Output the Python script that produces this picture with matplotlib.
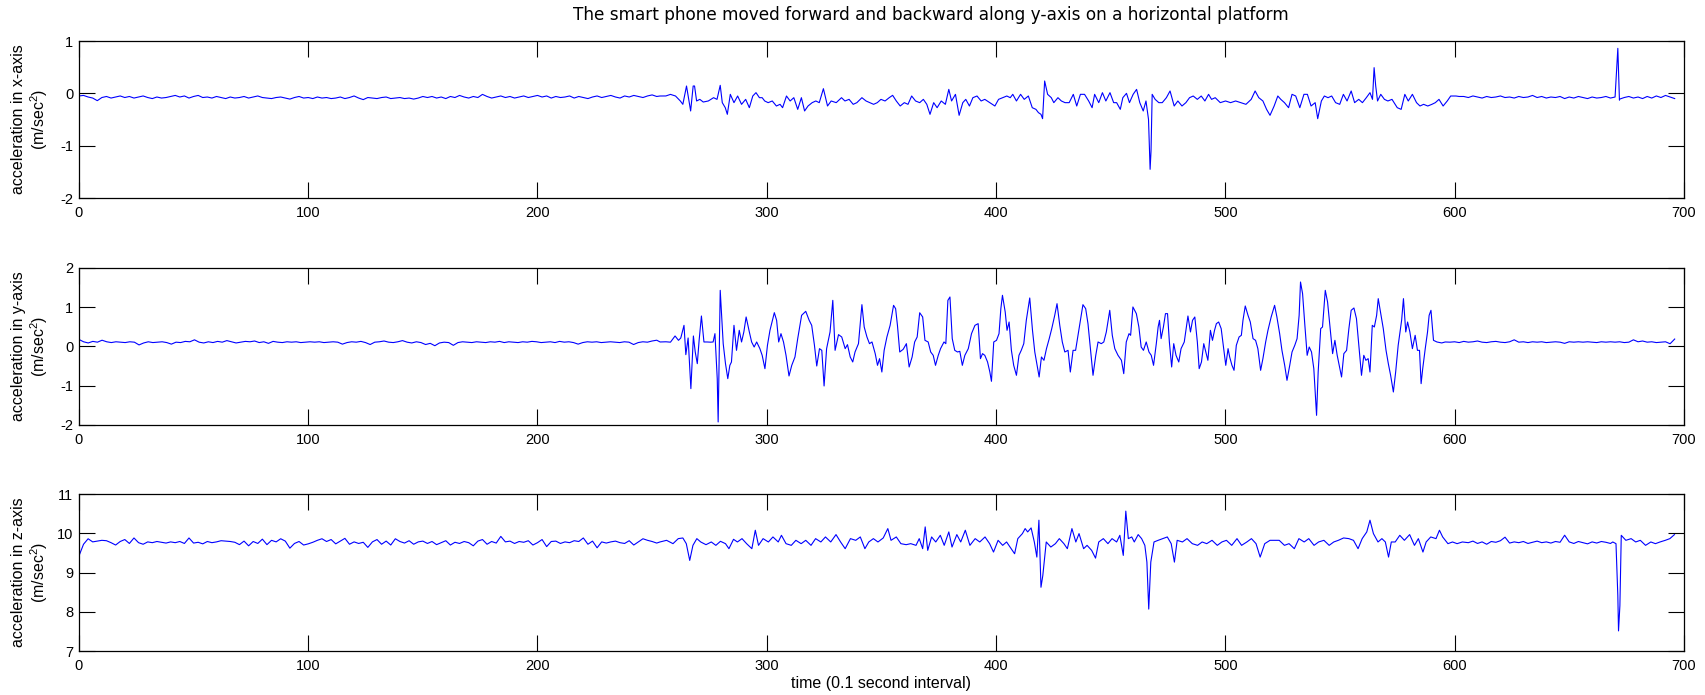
import numpy as np
import matplotlib
matplotlib.use("Agg")
import matplotlib.pyplot as plt

plt.rcParams['font.family'] = ['Liberation Sans', 'DejaVu Sans']
plt.rcParams['mathtext.fontset'] = 'custom'
plt.rcParams['mathtext.rm'] = 'Liberation Sans'
plt.rcParams['axes.unicode_minus'] = False

# ---------------- x-axis acceleration ----------------
x_quiet_a = [-0.05,-0.04,-0.07,-0.09,-0.14,-0.08,-0.06,-0.09,-0.07,-0.05,-0.08,-0.06,-0.09,-0.07,-0.05,-0.08,-0.10,-0.07,-0.09,-0.08,
             -0.06,-0.04,-0.07,-0.05,-0.09,-0.06,-0.04,-0.08,-0.07,-0.09,-0.06,-0.08,-0.10,-0.07,-0.09,-0.08,-0.06,-0.09,-0.07,-0.05,
             -0.08,-0.09,-0.10,-0.08,-0.07,-0.09,-0.11,-0.08,-0.06,-0.09,-0.08,-0.10,-0.07,-0.09,-0.08,-0.10,-0.09,-0.07,-0.10,-0.08,
             -0.05,-0.09,-0.12,-0.08,-0.09,-0.10,-0.08,-0.07,-0.10,-0.09,-0.08,-0.10,-0.09,-0.11,-0.09,-0.06,-0.08,-0.06,-0.09,-0.07,
             -0.10,-0.06,-0.08,-0.04,-0.07,-0.09,-0.06,-0.08,-0.02,-0.06,-0.09,-0.07,-0.05,-0.08,-0.06,-0.09,-0.07,-0.05,-0.08,-0.06,
             -0.04,-0.07,-0.05,-0.09,-0.06,-0.08,-0.07,-0.05,-0.09,-0.06,-0.08,-0.10,-0.07,-0.05,-0.08,-0.06,-0.04,-0.07,-0.09,-0.05,
             -0.07,-0.04,-0.06,-0.08,-0.05,-0.03,-0.06]
x_active_t = [253.4,256,258,260.2,262.3,263.4,265.0,266.1,266.8,267.9,268.5,269.4,270.8,272.3,274.5,276.8,278.3,279.7,280.6,281.9,
              282.8,284.1,285.7,287.3,289.0,290.8,292.4,293.9,295.3,296.8,298.0,299.1,300.6,302.4,304.2,305.8,306.9,308.6,310.2,311.8,
              313.5,315.1,316.5,318.0,319.8,321.4,322.9,324.7,326.5,328.1,330.3,332.6,334.1,335.9,337.7,339.3,341.5,343.3,344.9,346.6,
              348.2,349.8,351.6,353.4,354.9,356.5,358.2,360.0,361.6,363.2,364.9,366.7,368.3,369.8,371.2,372.8,374.3,376.1,377.9,379.4,
              380.6,382.3,383.9,385.5,386.8,388.4,389.9,391.7,393.5,395.1,397.3,399.5,401.1,402.9,404.7,406.2,407.3,408.9,410.7,412.3,
              414.1,415.8,417.4,418.5,419.6,420.3,421.2,422.5,424.1,425.2,427.0,428.5,430.1,431.9,433.7,435.2,436.8,438.6,440.4,441.9,
              443.0,444.8,446.4,447.9,449.7,451.3,452.6,454.2,455.3,456.9,458.2,459.8,461.3,462.7,464.2,465.4,466.5,467.2,467.6,468.1,
              469.4,471.0,472.5,474.3,475.9,477.7,479.3,481.1,482.8,484.4,486.0,487.8,489.5,491.1,492.7,494.0,495.6,497.8,500.1,502.3,
              504.5,506.8,509.0,511.3,513.0,514.6,516.4,518.0,519.5,521.3,522.9,524.2,525.8,527.6,529.1,530.7,532.5,534.3,535.8,537.4,
              539.2,540.3,541.9,543.2,544.8,546.4,548.1,549.9,551.5,553.1,554.9,556.4,558.2,559.8,561.5,563.1,564.2,564.9,565.6,566.4,
              567.8,569.4,570.9,572.7,575.0,576.7,578.3,579.8,581.6,583.4,584.9,586.5,588.3,590.1,591.6,593.2,595.0,596.8,598.3,600.6,
              602.0]
x_active_v = [-0.051,-0.05,-0.02,-0.051,-0.146,-0.210,0.140,-0.146,-0.337,0.140,0.140,-0.146,-0.115,-0.166,-0.146,-0.083,-0.115,0.153,-0.178,-0.274,
              -0.401,-0.019,-0.178,-0.051,-0.210,-0.115,-0.274,-0.051,0.013,-0.083,-0.083,-0.146,-0.178,-0.146,-0.242,-0.210,-0.274,-0.051,-0.146,-0.083,
              -0.306,-0.083,-0.337,-0.242,-0.178,-0.146,-0.178,0.089,-0.242,-0.146,-0.178,-0.083,-0.146,-0.115,-0.210,-0.178,-0.083,-0.146,-0.178,-0.210,
              -0.178,-0.115,-0.146,-0.083,-0.038,-0.146,-0.242,-0.178,-0.210,-0.051,-0.146,-0.178,-0.115,-0.210,-0.401,-0.178,-0.274,-0.146,-0.210,0.076,
              -0.146,-0.019,-0.420,-0.178,-0.115,-0.242,-0.083,-0.051,-0.146,-0.115,-0.178,-0.242,-0.115,-0.083,-0.051,-0.083,-0.019,-0.146,-0.019,-0.115,
              -0.051,-0.274,-0.306,-0.369,-0.401,-0.484,0.236,-0.019,-0.083,-0.178,-0.083,-0.146,-0.178,-0.178,-0.019,-0.242,-0.019,-0.019,-0.146,-0.274,
              -0.019,-0.178,0.013,-0.146,0.013,-0.178,-0.178,-0.306,-0.083,0.000,-0.178,-0.019,0.076,-0.178,-0.337,-0.146,-0.497,-1.452,-1.102,-0.019,
              -0.115,-0.178,-0.178,-0.083,0.045,-0.242,-0.146,-0.242,-0.178,-0.083,-0.051,-0.115,-0.051,-0.146,-0.019,-0.115,-0.083,-0.178,-0.146,-0.178,
              -0.146,-0.178,-0.210,-0.115,0.045,-0.083,-0.146,-0.306,-0.420,-0.242,-0.051,-0.115,-0.178,-0.274,-0.019,-0.051,-0.274,-0.019,-0.019,-0.242,
              -0.178,-0.484,-0.146,-0.051,-0.083,-0.051,-0.178,-0.210,-0.019,-0.146,0.045,-0.178,-0.115,-0.178,-0.083,0.013,-0.115,0.491,0.140,-0.146,
              -0.019,-0.115,-0.146,-0.115,-0.274,-0.306,-0.019,-0.146,-0.019,-0.178,-0.242,-0.210,-0.242,-0.210,-0.178,-0.115,-0.242,-0.146,-0.051,-0.051,
              -0.06]
x_quiet_b = [-0.06,-0.08,-0.05,-0.07,-0.09,-0.06,-0.08,-0.07,-0.05,-0.08,-0.07,-0.09,-0.06,-0.08,-0.07,-0.04,-0.08,-0.06,-0.09,-0.07,
             -0.08,-0.06,-0.10,-0.07,-0.09,-0.06,-0.08,-0.10,-0.07,-0.09,-0.08,-0.06,-0.09,-0.07,-0.11,-0.08,-0.06,-0.09,-0.07,-0.10,
             -0.06,-0.09,-0.05,-0.08,-0.04,-0.07,-0.10]
x_spike_t = [671.2, 671.9]
x_spike_v = [0.86, -0.13]

# ---------------- y-axis acceleration ----------------
y_quiet_a = [0.18,0.12,0.09,0.13,0.11,0.16,0.12,0.10,0.12,0.11,0.10,0.12,0.11,0.04,0.09,0.12,0.10,0.11,0.12,0.10,
             0.06,0.11,0.10,0.13,0.12,0.17,0.11,0.09,0.12,0.10,0.13,0.11,0.15,0.12,0.09,0.11,0.13,0.12,0.14,0.10,
             0.12,0.08,0.13,0.11,0.10,0.12,0.11,0.12,0.10,0.11,0.12,0.11,0.12,0.10,0.11,0.12,0.11,0.06,0.10,0.12,
             0.11,0.13,0.10,0.05,0.11,0.12,0.14,0.11,0.10,0.12,0.15,0.11,0.09,0.12,0.10,0.05,0.08,0.02,0.09,0.11,
             0.10,0.03,0.10,0.12,0.11,0.10,0.12,0.11,0.10,0.12,0.11,0.13,0.10,0.12,0.11,0.10,0.12,0.11,0.13,0.12,
             0.10,0.11,0.12,0.10,0.13,0.11,0.12,0.10,0.06,0.10,0.12,0.11,0.12,0.10,0.11,0.12,0.11,0.10,0.12,0.11,
             0.05,0.10,0.12,0.11,0.14,0.16]
y_active_t = [253.5,256,258,260,261.5,262.5,263.9,264.7,265.7,266.9,268.0,268.8,269.7,270.5,271.5,272.6,274,275.5,276.6,277.4,
              278.4,278.8,279.7,281.0,282.0,283.0,283.9,284.6,285.7,286.8,288.0,289.0,290.0,291.0,292.4,293.4,294.5,295.6,297,298,
              299.2,300.3,301.4,303.3,304.3,305.2,306.2,307.3,308.4,309.7,310.9,312.3,313.5,315.2,317.0,318.5,319.6,320.8,321.8,323.0,
              324.0,325.0,326.1,327.6,328.8,329.8,331.3,332.7,334.2,335.2,336.4,337.5,338.5,340.0,341.5,342.5,343.7,344.8,345.9,347.3,
              348.3,349.2,350.2,351.2,352.4,353.8,355.3,356.2,357.0,358.0,359.5,360.9,362.1,363.4,364.5,365.6,366.7,368.0,369.0,370.4,
              371.5,372.6,373.6,374.8,375.8,377.3,378.1,379.0,379.9,380.9,382.0,383.2,384.2,385.3,386.4,387.9,389.3,390.8,392.2,393.2,
              394.1,395.1,396.3,397.3,398.0,399.0,400.2,401.3,402.1,402.8,404.0,404.8,405.7,406.7,407.7,408.9,410.0,411.0,412.1,413.2,
              414.7,415.9,416.9,417.9,418.8,419.8,420.9,422.0,423.2,424.3,425.6,426.6,427.8,428.9,430.0,431.4,432.4,433.6,434.7,436.2,
              437.9,439.1,440.1,441.1,442.3,443.5,444.5,445.9,447.0,448.1,449.6,450.7,451.8,453.2,454.7,455.7,456.8,458.0,458.7,459.7,
              461.2,462.3,463.3,464.3,465.5,466.7,467.7,468.7,469.9,470.7,471.3,472.0,473.0,473.9,474.8,475.6,476.6,477.5,478.5,479.7,
              480.7,482.1,483.7,484.8,485.7,486.7,487.8,488.6,489.6,490.6,491.5,492.4,493.5,494.4,495.3,496.1,497.1,498.2,499.3,500.2,
              501.2,501.9,502.9,503.8,504.8,506.0,507.0,507.7,508.7,509.9,510.9,512.1,513.2,514.2,515.4,516.4,517.6,518.6,520.0,521.5,
              522.5,523.7,524.7,525.9,526.9,528.1,529.1,530.3,531.3,532.2,532.8,533.7,534.7,535.7,536.6,537.6,538.6,539.4,539.8,540.5,
              541.6,542.4,543.6,544.6,545.6,546.8,547.8,548.8,550.0,550.7,551.7,552.9,553.9,554.9,556.1,557.2,558.3,559.4,560.4,561.3,
              562.3,563.1,564.1,565.0,566.0,566.7,567.8,568.9,570.1,571.1,572.1,573.3,574.3,575.4,576.2,576.9,577.7,578.7,579.5,580.5,
              581.6,582.8,583.8,584.7,585.4,586.1,587.2,588.2,588.9,589.7,590.8,592.3,594.4,595.9]
y_active_v = [0.115,0.12,0.11,0.268,0.157,0.217,0.539,-0.208,0.217,-1.074,0.268,-0.140,-0.437,0.157,0.777,0.115,0.115,0.11,0.115,0.327,
              -0.819,-1.923,1.431,0.072,-0.437,-0.819,-0.480,-0.395,0.539,-0.098,0.412,0.115,0.370,0.752,0.370,0.115,-0.013,0.115,-0.055,-0.225,
              -0.565,0.030,0.412,0.862,0.667,0.115,0.327,0.115,-0.225,-0.751,-0.480,-0.267,0.200,0.794,0.896,0.667,0.539,0.030,-0.497,-0.055,
              -0.098,-1.006,-0.055,0.370,1.176,-0.098,0.302,0.242,-0.055,0.047,-0.267,-0.395,-0.140,0.072,1.066,0.497,0.242,0.072,0.115,-0.182,
              -0.480,-0.310,-0.650,-0.098,0.242,0.539,1.049,0.964,0.539,-0.140,-0.072,0.072,-0.522,-0.267,0.115,0.242,0.860,0.752,0.157,0.115,
              -0.140,-0.225,-0.480,-0.225,-0.055,0.115,0.072,1.176,1.261,0.200,-0.098,-0.140,-0.123,-0.480,-0.225,-0.055,0.327,0.539,0.582,-0.310,
              -0.182,-0.225,-0.395,-0.650,-0.887,0.115,0.157,0.327,0.964,1.304,0.879,0.412,0.624,-0.098,-0.480,-0.734,-0.225,-0.098,0.072,0.667,
              1.236,0.412,-0.140,-0.480,-0.777,-0.267,-0.352,-0.055,0.200,0.455,0.794,1.091,0.539,0.115,-0.140,-0.098,-0.650,-0.098,-0.098,0.455,
              1.066,0.964,0.582,-0.013,-0.734,-0.225,0.115,0.072,0.115,0.370,0.922,0.285,-0.055,-0.225,-0.352,-0.692,0.115,0.327,0.285,1.007,
              0.837,0.497,-0.013,-0.098,0.115,-0.140,-0.225,-0.480,0.072,0.497,0.667,0.200,0.497,0.837,0.837,0.115,-0.522,0.072,-0.225,-0.395,
              -0.055,0.115,0.777,0.370,0.667,0.752,0.115,-0.565,-0.395,0.072,-0.140,-0.352,0.412,0.157,0.412,0.582,0.624,0.455,-0.055,-0.480,
              -0.055,-0.267,-0.480,-0.607,0.030,0.242,0.285,0.667,1.032,0.794,0.624,0.200,0.157,-0.055,-0.607,-0.310,0.115,0.412,0.752,1.049,
              0.752,0.327,-0.098,-0.480,-0.862,-0.480,-0.140,0.030,0.200,0.794,1.643,1.346,0.539,-0.225,-0.013,-0.140,-0.565,-1.329,-1.754,-0.650,
              0.455,0.497,1.431,1.134,0.539,-0.182,0.157,-0.225,-0.565,-0.777,-0.182,-0.098,0.455,0.922,0.981,0.709,-0.013,-0.734,-0.225,-0.352,
              -0.310,-0.650,0.539,0.497,0.794,1.219,0.837,0.455,-0.098,-0.437,-0.734,-1.159,-0.650,0.030,0.370,0.667,1.219,0.370,0.624,0.370,
              -0.055,0.285,-0.098,-0.098,-0.947,-0.565,-0.055,0.370,0.794,0.922,0.157,0.115,0.09,0.115]
y_quiet_b = [0.11,0.12,0.10,0.13,0.11,0.12,0.14,0.11,0.10,0.12,0.13,0.11,0.10,0.12,0.17,0.11,0.12,0.10,0.12,0.11,
             0.12,0.10,0.11,0.12,0.11,0.08,0.12,0.11,0.12,0.11,0.12,0.11,0.10,0.12,0.11,0.12,0.11,0.12,0.10,0.11,
             0.17,0.12,0.14,0.11,0.12,0.10,0.11,0.12,0.07,0.19]

# ---------------- z-axis acceleration ----------------
z_quiet_a = [9.42,9.72,9.86,9.78,9.80,9.82,9.81,9.76,9.70,9.79,9.84,9.74,9.88,9.76,9.72,9.78,9.76,9.79,9.77,9.75,
             9.78,9.76,9.79,9.74,9.88,9.75,9.77,9.73,9.79,9.76,9.78,9.81,9.80,9.79,9.77,9.71,9.80,9.68,9.79,9.74,
             9.85,9.71,9.82,9.78,9.86,9.80,9.62,9.74,9.79,9.70,9.73,9.77,9.82,9.86,9.79,9.84,9.73,9.80,9.87,9.72,
             9.78,9.74,9.77,9.64,9.78,9.84,9.72,9.80,9.70,9.86,9.79,9.75,9.81,9.72,9.78,9.80,9.74,9.79,9.71,9.76,
             9.81,9.70,9.77,9.74,9.79,9.76,9.68,9.80,9.84,9.72,9.79,9.75,9.92,9.78,9.80,9.74,9.79,9.77,9.81,9.70,
             9.76,9.84,9.66,9.79,9.80,9.74,9.78,9.76,9.81,9.79,9.88,9.72,9.80,9.63,9.78,9.75,9.78,9.80,9.76,9.74,
             9.81,9.70,9.78,9.86,9.82,9.79,9.75]
z_active_t = [253.4,256.3,259.1,261.4,263.4,264.9,266.4,267.8,269.5,271.2,273.5,275.8,277.8,279.8,282.0,283.5,285.5,287.2,289.2,291.2,
              293.5,295.0,296.4,298.4,300.7,302.7,305.0,306.4,308.4,310.7,312.7,315.0,317.0,319.3,321.3,323.6,325.6,327.9,330.2,332.2,
              334.2,336.5,338.8,340.8,342.8,344.5,346.5,348.5,350.8,352.8,354.2,356.5,358.5,360.8,362.8,365.1,366.5,368.0,369.1,370.2,
              371.9,373.7,375.7,377.4,379.4,380.8,382.9,384.6,386.6,388.6,390.9,392.9,395.2,397.2,398.9,400.9,402.9,404.6,406.6,408.1,
              409.5,411.5,412.7,413.8,415.3,416.7,417.8,418.7,419.6,420.4,421.9,423.9,425.9,427.6,429.6,431.1,433.1,434.8,436.2,438.2,
              439.7,441.7,443.4,444.8,446.8,448.8,450.6,452.6,454.0,455.5,456.6,457.7,459.2,460.3,462.0,463.5,464.9,465.8,466.6,467.5,
              468.9,470.7,472.7,474.7,476.4,477.8,479.0,481.3,483.3,485.6,487.9,489.9,491.9,494.2,496.5,498.5,500.5,502.8,505.1,507.1,
              509.4,511.4,513.4,515.2,517.2,519.5,521.5,523.5,525.8,527.8,530.1,532.1,534.4,536.4,538.7,540.7,543.0,545.3,547.3,549.3,
              551.6,553.9,555.9,557.9,559.7,561.7,563.1,564.6,566.6,568.3,569.8,571.2,572.4,574.1,576.1,578.1,580.4,582.5,584.2,586.2,
              587.6,589.6,591.9,593.4,594.8,597.1,599.1,601.1,603.4]
z_active_v = [9.778,9.820,9.735,9.863,9.880,9.735,9.308,9.692,9.863,9.778,9.709,9.778,9.692,9.795,9.735,9.607,9.846,9.778,9.863,9.735,
              9.607,10.077,9.692,9.863,9.778,9.906,9.778,9.948,9.735,9.692,9.820,9.735,9.820,9.692,9.863,9.778,9.906,9.778,9.966,9.778,
              9.607,9.863,9.820,9.906,9.607,9.778,9.863,9.778,9.880,10.119,9.820,9.906,9.735,9.709,9.735,9.692,9.863,9.607,10.162,9.564,
              9.906,9.778,9.948,9.692,10.034,9.649,9.966,9.778,10.077,9.692,9.863,9.778,9.906,9.735,9.521,9.820,9.692,9.778,9.607,9.478,
              9.863,9.991,10.119,10.034,10.136,9.778,9.393,10.333,8.624,8.923,9.778,9.649,9.735,9.863,9.735,9.607,10.119,9.778,9.991,9.607,
              9.692,9.564,9.367,9.778,9.863,9.735,9.863,9.778,9.948,9.436,10.564,9.863,9.906,9.778,9.966,9.863,9.692,9.265,8.068,9.265,
              9.778,9.820,9.863,9.906,9.735,9.265,9.820,9.778,9.863,9.735,9.692,9.778,9.735,9.820,9.692,9.778,9.820,9.692,9.863,9.692,
              9.778,9.863,9.735,9.393,9.735,9.820,9.820,9.820,9.692,9.735,9.607,9.863,9.778,9.863,9.692,9.778,9.820,9.692,9.778,9.820,
              9.880,9.863,9.820,9.607,9.863,10.034,10.333,9.991,9.778,9.863,9.778,9.393,9.778,9.778,9.948,9.820,9.966,9.692,9.863,9.521,
              9.778,9.906,9.863,10.077,9.906,9.735,9.778,9.735,9.778]
z_quiet_b = [9.76,9.80,9.74,9.78,9.72,9.79,9.77,9.81,9.90,9.75,9.78,9.76,9.79,9.74,9.77,9.80,9.76,9.78,9.75,9.79,
             9.77,9.95,9.78,9.74,9.79,9.76,9.73,9.78,9.75,9.79,9.77,9.74]
z_tail_t = [669.0,670.4,671.2,671.5,672.1,672.7,674.7,677.0,679.0,681.0,683.3,685.6,687.6,689.6,691.9,693.9,695.9]
z_tail_v = [9.778,9.735,8.410,7.512,8.154,9.948,9.820,9.863,9.778,9.820,9.692,9.778,9.735,9.778,9.820,9.863,9.966]


def build(parts):
    t = np.concatenate([np.asarray(p[0], float) for p in parts])
    v = np.concatenate([np.asarray(p[1], float) for p in parts])
    order = np.argsort(t, kind="stable")
    return t[order], v[order]


def quiet(vals, t0, t1):
    return np.linspace(t0, t1, len(vals)), vals


tx, vx = build([quiet(x_quiet_a, 0, 252), (x_active_t, x_active_v),
                quiet(x_quiet_b, 604, 696), (x_spike_t, x_spike_v)])
ty, vy = build([quiet(y_quiet_a, 0, 252), (y_active_t, y_active_v),
                quiet(y_quiet_b, 598, 696)])
tz, vz = build([quiet(z_quiet_a, 0, 252), (z_active_t, z_active_v),
                quiet(z_quiet_b, 606, 668), (z_tail_t, z_tail_v)])

series = [(tx, vx, (-2, 1), [-2, -1, 0, 1], 'acceleration in x-axis'),
          (ty, vy, (-2, 2), [-2, -1, 0, 1, 2], 'acceleration in y-axis'),
          (tz, vz, (7, 11), [7, 8, 9, 10, 11], 'acceleration in z-axis')]

fig = plt.figure(figsize=(17.05, 6.95), dpi=100)
bottoms = [0.7151, 0.3885, 0.0633]
axes = []
for (t, v, ylim, yt, lab), b in zip(series, bottoms):
    ax = fig.add_axes([0.0463, b, 0.9413, 0.2259])
    ax.plot(t, v, color='#0000ff', lw=0.8)
    ax.set_xlim(0, 700)
    ax.set_ylim(*ylim)
    ax.set_xticks(range(0, 701, 100))
    ax.set_yticks(yt)
    ax.tick_params(direction='in', top=True, right=True, length=11.5, width=0.8,
                   labelsize=10.5, color='black')
    ax.tick_params(axis='x', pad=6)
    ax.tick_params(axis='y', pad=4)
    for s in ax.spines.values():
        s.set_linewidth(0.9)
    ax.set_ylabel(lab + '\n' + r'(m/sec$^\mathregular{2}$)', fontsize=11.5, linespacing=1.15)
    ax.yaxis.set_label_coords(-0.018, 0.5)
    axes.append(ax)

axes[2].set_xlabel('time (0.1 second interval)', fontsize=11.5, labelpad=2)
fig.text(0.546, 0.978, 'The smart phone moved forward and backward along y-axis on a horizontal platform',
         ha='center', va='center', fontsize=12.2, family='DejaVu Sans')

fig.savefig('out.png', dpi=100)
